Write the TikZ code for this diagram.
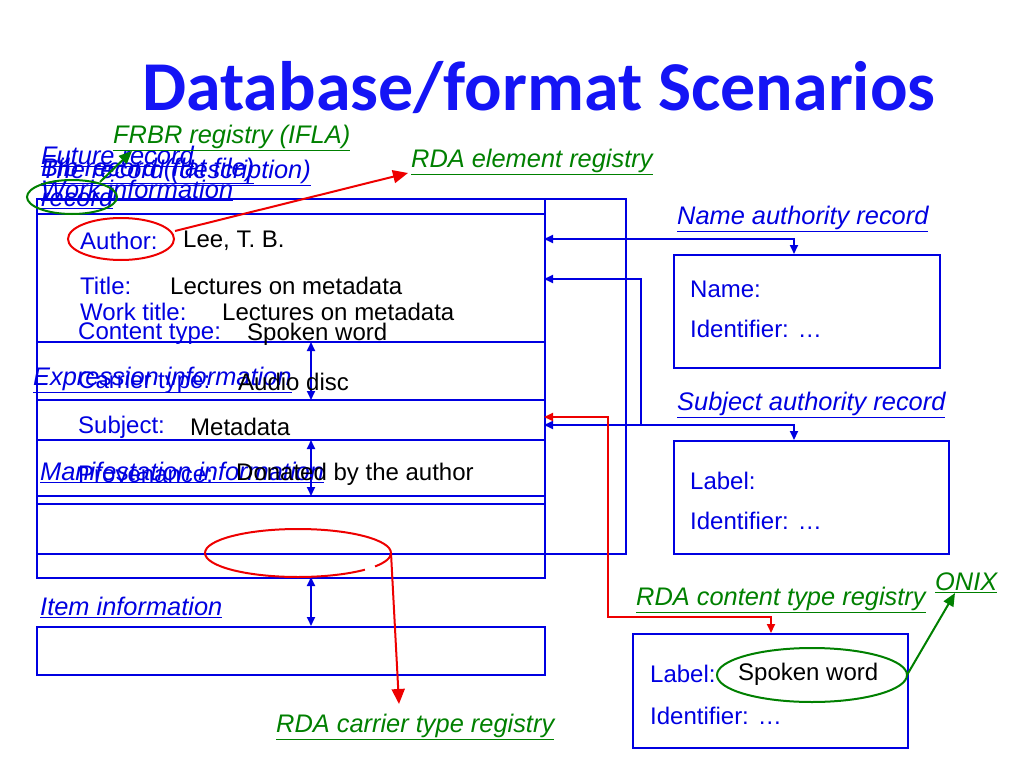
\documentclass[tikz,border=0pt]{standalone}
\usepackage{fontspec}
\setmainfont{Liberation Sans}
\newfontfamily\titlefont{Carlito}
\usetikzlibrary{arrows.meta}
\definecolor{myblue}{RGB}{0,0,225}
\definecolor{titleblue}{RGB}{20,20,245}
\definecolor{mygreen}{RGB}{0,128,0}
\definecolor{myred}{RGB}{238,0,0}
\newcommand{\myul}[1]{\underline{#1}}
\begin{document}
\begin{tikzpicture}[x=1bp,y=-1bp,
  boxline/.style={draw=myblue, line width=2bp},
  recbox/.style={draw=myblue, line width=2bp, inner sep=0, anchor=north west},
  lbl/.style={anchor=west, inner sep=0, text=myblue, font=\fontsize{24bp}{28bp}\selectfont},
  val/.style={anchor=west, inner sep=0, text=black, font=\fontsize{24bp}{28bp}\selectfont},
  sec/.style={anchor=west, inner sep=0, text=myblue, font=\fontsize{25.4bp}{30bp}\selectfont\itshape},
  reg/.style={anchor=west, inner sep=0, text=mygreen, font=\fontsize{25.4bp}{30bp}\selectfont\itshape},
  blink/.style={draw=myblue, line width=1.8bp, -{Triangle[length=9bp,width=8bp]}},
  bboth/.style={draw=myblue, line width=1.8bp, {Triangle[length=9bp,width=8bp]}-{Triangle[length=9bp,width=8bp]}},
  rlink/.style={draw=myred, line width=2bp, -{Triangle[length=9bp,width=8bp]}},
  rbig/.style={draw=myred, line width=2bp, -{Triangle[length=15bp,width=13bp]}},
  glink/.style={draw=mygreen, line width=2bp, -{Triangle[length=13bp,width=11bp]}},
  hl/.style={line width=2bp}
]
\fill[white] (0,0) rectangle (1024,768);
\useasboundingbox (0,0) rectangle (1024,768);

% title
\node[inner sep=0, text=titleblue, font=\titlefont\bfseries\fontsize{70bp}{80bp}\selectfont] (title) at (539,88) {Database/format Scenarios};

% record frames
\node[recbox, minimum width=589bp, minimum height=355bp] (future) at (36,198) {};
\node[recbox, minimum width=508bp, minimum height=379bp] (rec) at (36,198) {};
\node[recbox, minimum width=508bp, minimum height=48bp] (item) at (36,626) {};

% horizontal dividers
\foreach \yy/\nm in {214/da,342/db,400/dc,440/dd,496/de,504/df}{
  \coordinate (\nm l) at (36,\yy);
  \coordinate (\nm r) at (544,\yy);
  \draw[boxline] (\nm l) -- (\nm r);
}

% double arrows between parts
\coordinate (a1) at (311,342); \coordinate (a2) at (311,400);
\coordinate (a3) at (311,440); \coordinate (a4) at (311,496);
\coordinate (a5) at (311,577); \coordinate (a6) at (311,626);
\draw[bboth] (a1) -- (a2);
\draw[bboth] (a3) -- (a4);
\draw[bboth] (a5) -- (a6);

% record texts
\node[lbl] (authl) at (80,241) {Author:};
\node[val] (authv) at (183,241) {Lee, T. B.};
\node[lbl] (titl) at (80,286) {Title:};
\node[val] (titv) at (170,286) {Lectures on metadata};
\node[lbl] (wtl) at (80,312) {Work title:};
\node[val] (wtv) at (222,312) {Lectures on metadata};
\node[lbl] (ctl) at (78,334) {Content type:};
\node[val] (ctv) at (247,334) {Spoken word};
\node[sec] (expr) at (33,380) {\myul{Expression information}};
\node[lbl] (carl) at (78,382) {Carrier type:};
\node[val] (carv) at (238,382) {Audio disc};
\node[lbl] (subl) at (78,427) {Subject:};
\node[val] (subv) at (190,427) {Metadata};
\node[sec] (manif) at (40,472) {\myul{Manifestation information}};
\node[lbl] (provl) at (78,474) {Provenance:};
\node[val] (provv) at (236,474) {Donated by the author};
\node[sec] (itemt) at (40,607) {\myul{Item information}};

% top-left overlapping labels
\node[sec] (fut) at (41,156) {\myul{Future record}};
\node[sec] (thedesc) at (41,173) {\myul{The record (description)}};
\node[sec] (bibflat) at (41,171) {\myul{Bib record (flat file)}};
\node[sec] (workinfo) at (41,190) {\myul{Work information}};
\node[sec] (recw) at (41,198) {\myul{record}};

% registries
\node[reg] (frbr) at (113,138) {\myul{FRBR registry (IFLA)}};
\node[reg] (rdael) at (411,162) {\myul{RDA element registry}};
\node[reg] (rdacar) at (276,727) {\myul{RDA carrier type registry}};
\node[reg] (rdacon) at (636,600) {\myul{RDA content type registry}};
\node[reg] (onix) at (935,583) {\myul{ONIX}};

% authority records
\node[sec] (nart) at (677,219) {\myul{Name authority record}};
\node[recbox, minimum width=266bp, minimum height=113bp] (namebox) at (673,254) {};
\node[lbl] (nname) at (690,289) {Name:};
\node[lbl] (nid) at (690,329) {Identifier: \dots};

\node[sec] (sart) at (677,405) {\myul{Subject authority record}};
\node[recbox, minimum width=275bp, minimum height=113bp] (subbox) at (673,440) {};
\node[lbl] (slab) at (690,481) {Label:};
\node[lbl] (sid) at (690,521) {Identifier: \dots};

\node[recbox, minimum width=275bp, minimum height=114bp] (conbox) at (632,633) {};
\node[lbl] (clab) at (650,674) {Label:};
\node[val] (cval) at (738,674) {Spoken word};
\node[lbl] (cid) at (650,716) {Identifier: \dots};

% connectors to authority records
\coordinate (n1) at (544,239); \coordinate (n2) at (794,239);
\draw[bboth] (n1) -- (n2) -- (namebox.north -| n2);
\coordinate (t1) at (544,279); \coordinate (t2) at (641,279); \coordinate (t3) at (641,425);
\draw[blink] (t3) -- (t2) -- (t1);
\coordinate (s1) at (544,425); \coordinate (s2) at (794,425);
\draw[bboth] (s1) -- (s2) -- (subbox.north -| s2);
\coordinate (r1) at (544,417); \coordinate (r2) at (608,417);
\coordinate (r3) at (608,617); \coordinate (r4) at (771,617);
\draw[rlink, {Triangle[length=9bp,width=8bp]}-{Triangle[length=9bp,width=8bp]}] (r1) -- (r2) -- (r3) -- (r4) -- (conbox.north -| r4);

% highlight ellipses
\draw[myred, hl] (121,239) ellipse [x radius=53bp, y radius=21bp];
\coordinate (authe) at (175,231);
\coordinate (rdaeltip) at (408,173);
\draw[rbig] (authe) -- (rdaeltip);

\draw[myred, hl] (391,553) arc[start angle=0, end angle=316, x radius=93bp, y radius=24bp];
\draw[myred, hl] (298,553) ++(326:93bp and 24bp) arc[start angle=326, end angle=360, x radius=93bp, y radius=24bp];
\coordinate (care) at (391,553);
\coordinate (cartip) at (399,704);
\draw[rbig] (care) -- (cartip);

\draw[mygreen, hl] (72,197) ellipse [x radius=45bp, y radius=17bp];
\coordinate (ge1) at (100,182);
\coordinate (ge2) at (132,151);
\draw[glink] (ge1) -- (ge2);

\draw[mygreen, hl] (812,675) ellipse [x radius=95bp, y radius=27bp];
\coordinate (oe1) at (907,675);
\coordinate (oe2) at (955,593);
\draw[glink] (oe1) -- (oe2);
\end{tikzpicture}
\end{document}
